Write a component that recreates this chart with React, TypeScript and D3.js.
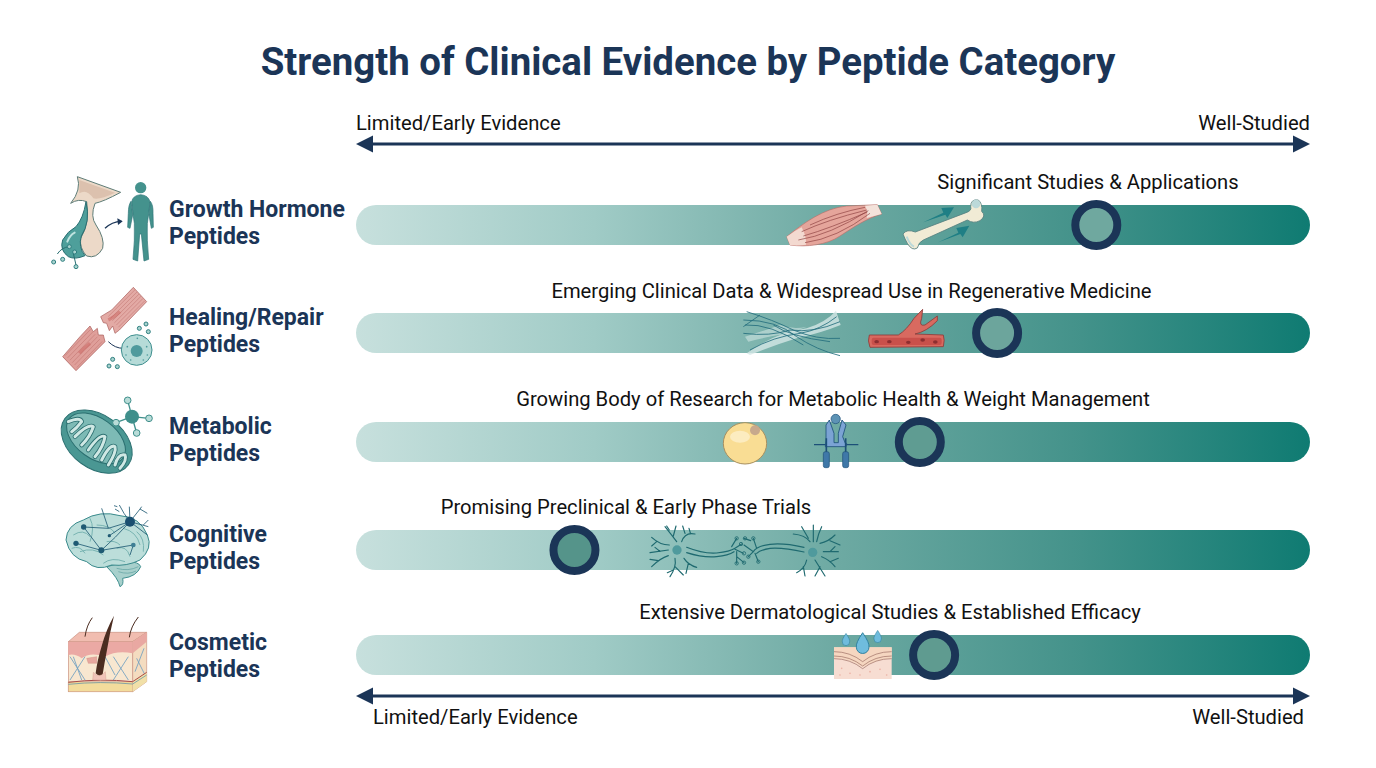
import React from "react";
import * as d3 from "d3";

const categories = ["Growth Hormone", "Healing/Repair", "Metabolic", "Cognitive", "Cosmetic"];
const evidenceScores = [77.6, 67.2, 59.1, 22.9, 60.6];
const annotations = [
  "Significant Studies & Applications",
  "Emerging Clinical Data & Widespread Use in Regenerative Medicine",
  "Growing Body of Research for Metabolic Health & Weight Management",
  "Promising Preclinical & Early Phase Trials",
  "Extensive Dermatological Studies & Established Efficacy",
];
const axisEnds = ["Limited/Early Evidence", "Well-Studied"];

const NAVY = "#1b3557";
const FONT = "Roboto, sans-serif";
const rowCenters = [225, 333, 442, 550, 655];
const noteCenters = [1088, 851.5, 833, 626, 890];
const noteBaselines = [189.3, 297.8, 406.3, 514.3, 619.3];
const labelBaselines = [217, 325, 433.5, 541.5, 650];
const markerFills = ["#6fa89f", "#6ca59c", "#5f9c92", "#55948a", "#5f9b90"];

const x = d3.scaleLinear().domain([0, 100]).range([356, 1310]);
const y = d3.scaleOrdinal<string, number>().domain(categories).range(rowCenters);

const Z = ({ ox, oy, children }: any) => (
  <g transform={`translate(${ox},${oy}) scale(${1 / 3})`}>{children}</g>
);

const Dot = ({ cx, cy, r = 6 }: any) => (
  <circle cx={cx} cy={cy} r={r} fill="#a9d3cf" stroke="#2f7f80" strokeWidth={3} />
);

const GrowthIcon = () => (
  <Z ox={40} oy={160}>
    <path d="M112 50 L242 97 Q190 125 165 130 Q150 170 168 195 Q195 235 188 265 Q170 298 140 288 Q118 265 122 235 Q150 190 140 125 Q115 115 92 130 Q125 90 112 50Z" fill="#ecd9c8" stroke="#5f7d78" strokeWidth={3} />
    <path d="M118 60 L225 98 Q180 120 160 115 Q140 85 118 100Z" fill="#dcc1ae" />
    <path d="M138 125 Q152 185 124 228 Q114 262 135 287 Q105 300 85 290 Q58 270 68 240 Q82 214 108 200 Q130 175 138 125Z" fill="#4e9f9b" stroke="#2a6f72" strokeWidth={3} />
    <path d="M82 245 Q90 225 104 218" stroke="#bfe3df" strokeWidth={6} fill="none" strokeLinecap="round" />
    <path d="M195 205 Q215 185 245 184" stroke={NAVY} strokeWidth={4} fill="none" />
    <path d="M232 175 L248 184 L234 195Z" fill={NAVY} />
    <path d="M88 260 Q65 262 52 282 M100 280 L108 315" stroke="#2a6f72" strokeWidth={3} fill="none" />
    <Dot cx={88} cy={260} /><Dot cx={104} cy={276} /><Dot cx={41} cy={306} /><Dot cx={68} cy={298} /><Dot cx={108} cy={320} />
    <circle cx={302} cy={83} r={17} fill="#44928d" />
    <path d="M302 104 Q326 106 330 126 Q326 165 322 190 Q320 240 326 298 L312 303 L304 222 L299 222 L293 303 L279 298 Q285 240 283 190 Q279 165 275 126 Q278 106 302 104Z" fill="#44928d" stroke="#2a7376" strokeWidth={2} />
    <path d="M331 124 Q340 135 339 160 L340 202 L334 205 L327 165Z M273 124 Q265 135 265 160 L263 202 L270 205 L278 165Z" fill="#44928d" stroke="#2a7376" strokeWidth={2} />
  </Z>
);

const muscleStripes = (a: number[], b: number[], n: number) =>
  d3.range(n).map((i) => {
    const t = (i + 0.5) / n;
    const p = [a[0] + (a[2] - a[0]) * t, a[1] + (a[3] - a[1]) * t];
    return <line key={i} x1={p[0]} y1={p[1]} x2={p[0] + b[0]} y2={p[1] + b[1]} stroke="#bd6f6b" strokeWidth={1.5} />;
  });

const HealingIcon = () => (
  <Z ox={40} oy={160}>
    <path d="M280 382 L320 425 L238 510 L225 520 L218 498 L208 512 L200 490 L190 488 L182 470 L215 450Z" fill="#e3aaa5" stroke="#a85a58" strokeWidth={2} />
    {muscleStripes([282, 386, 318, 425], [-80, 80], 6)}
    <path d="M240 455 Q225 470 205 480" stroke="#c9605c" strokeWidth={10} opacity={0.5} fill="none" />
    <path d="M150 498 L160 515 L172 505 L175 525 L190 525 L195 545 L108 632 L68 590 L120 530Z" fill="#df9f9a" stroke="#a85a58" strokeWidth={2} />
    {muscleStripes([148, 505, 190, 548], [-76, 78], 6)}
    <path d="M150 550 Q130 565 118 580" stroke="#c9605c" strokeWidth={10} opacity={0.5} fill="none" />
    <path d="M205 545 Q225 565 250 565" stroke={NAVY} strokeWidth={3} fill="none" />
    <circle cx={290} cy={570} r={46} fill="#b6dbd8" stroke="#3f8f8f" strokeWidth={3} />
    <circle cx={290} cy={573} r={18} fill="#4f9a9d" />
    {[[262, 560], [272, 600], [310, 600], [320, 560], [292, 535], [258, 585], [322, 585]].map((p, i) => <circle key={i} cx={p[0]} cy={p[1]} r={2.5} fill="#4f9a9d" />)}
    <Dot cx={298} cy={505} /><Dot cx={318} cy={492} /><Dot cx={325} cy={515} /><Dot cx={218} cy={598} /><Dot cx={207} cy={618} /><Dot cx={232} cy={620} />
  </Z>
);

const CRISTAE = "M85 110 Q120 95 125 110 Q110 130 95 140 M105 155 Q145 115 160 125 Q150 155 125 180 M145 195 Q180 145 195 155 Q190 185 165 215 M185 225 Q210 175 225 185 Q230 200 205 240 M225 240 Q235 205 255 210 Q262 225 240 250";

const MetabolicIcon = () => (
  <Z ox={40} oy={385}>
    <ellipse cx={170} cy={170} rx={118} ry={80} transform="rotate(36 170 170)" fill="#4a9793" stroke="#2b6f70" strokeWidth={3} />
    <ellipse cx={168} cy={160} rx={100} ry={60} transform="rotate(36 168 160)" fill="#7dbab5" stroke="#2b6f70" strokeWidth={3} />
    <path d={CRISTAE} fill="none" stroke="#2b6f70" strokeWidth={14} strokeLinecap="round" strokeLinejoin="round" />
    <path d={CRISTAE} fill="none" stroke="#cfe8e4" strokeWidth={9} strokeLinecap="round" strokeLinejoin="round" />
    <g stroke="#3f8f8b" strokeWidth={4}>
      <line x1={276} y1={95} x2={263} y2={46} /><line x1={276} y1={95} x2={228} y2={113} /><line x1={276} y1={95} x2={327} y2={100} /><line x1={276} y1={95} x2={290} y2={144} />
    </g>
    <circle cx={276} cy={95} r={21} fill="#3f8f8b" />
    {[[263, 46], [228, 113], [327, 100], [290, 144]].map((p, i) => <circle key={i} cx={p[0]} cy={p[1]} r={10} fill="#b9dcd8" stroke="#3f8f8b" strokeWidth={3} />)}
  </Z>
);

const CognitiveIcon = () => (
  <Z ox={40} oy={385}>
    <path d="M200 545 Q235 580 240 605 Q252 600 248 580 Q290 575 302 545 Q298 530 260 530Z" fill="#a8d0cc" stroke="#3f8f8f" strokeWidth={3} />
    <path d="M230 550 Q265 560 295 545 M235 560 Q265 570 288 558" fill="none" stroke="#5c9f9f" strokeWidth={2} />
    <path d="M78 465 Q80 420 130 405 Q180 375 240 392 Q300 395 322 450 Q340 490 300 525 Q260 545 215 540 Q170 560 140 530 Q90 520 78 465Z" fill="#bcdeda" stroke="#3a8a8c" strokeWidth={3} />
    <path d="M100 450 Q130 430 150 455 M170 420 Q210 420 225 445 M250 430 Q290 440 300 480 M120 500 Q160 485 190 510 M230 490 Q260 480 270 515 M150 400 Q165 430 150 470 M95 490 Q120 480 135 505 M190 535 Q215 515 255 530 M290 440 Q315 460 310 500 M200 470 Q225 465 240 480" fill="none" stroke="#79b4b2" strokeWidth={3} />
    <path d="M131 426 L184 496 L108 475 M184 496 Q225 460 270 410 L208 452 M184 496 L280 480 L270 510 M131 426 L205 430 L270 410 M270 410 Q250 385 238 360 M270 410 L300 372 M270 410 L325 425 M270 410 L322 450 M270 410 L268 365 M238 380 L225 372 M300 372 L322 385 M300 372 L305 365 M205 430 L185 370 M310 420 L325 405 M232 365 L222 362" fill="none" stroke="#1f5a73" strokeWidth={2.5} />
    <circle cx={131} cy={426} r={8} fill="#1f5a73" /><circle cx={108} cy={475} r={8} fill="#1f5a73" /><circle cx={184} cy={496} r={9} fill="#1f5a73" /><circle cx={208} cy={452} r={5} fill="#1f5a73" /><circle cx={280} cy={480} r={7} fill="#3f7f95" /><circle cx={270} cy={410} r={15} fill="#1a4f70" />
  </Z>
);

const CosmeticIcon = () => (
  <Z ox={40} oy={385}>
    <path d="M85 770 L118 742 L320 742 L278 770Z" fill="#f1bdb0" stroke="#c98f7f" strokeWidth={2} />
    <path d="M278 770 L320 742 L320 890 L278 920Z" fill="#f4dcc0" stroke="#c98f7f" strokeWidth={2} />
    <rect x={85} y={770} width={193} height={150} fill="#f8e7d0" stroke="#c98f7f" strokeWidth={2} />
    <path d="M85 770 L278 770 L278 805 Q230 795 195 815 Q150 800 125 820 Q105 805 85 810Z" fill="#eba9a4" />
    <path d="M278 770 L320 742 L320 770 L278 805Z" fill="#e9a8a2" />
    <g stroke="#6f9fc0" strokeWidth={2.5} fill="none">
      <path d="M90 815 L135 885 M135 815 L90 885 M100 815 L125 885 M220 815 L265 885 M265 815 L220 885 M290 820 L315 870 M312 790 L285 860 M195 815 L225 870" />
    </g>
    <path d="M85 890 L278 890 L278 920 L85 920Z" fill="#f3dc9c" stroke="#c98f7f" strokeWidth={1.5} />
    <path d="M278 890 L320 862 L320 890 L278 920Z" fill="#f1e0a8" />
    <path d="M85 892 Q180 880 278 890 L320 862" stroke="#a94a48" strokeWidth={3} fill="none" />
    <path d="M85 898 Q180 888 278 897 L320 870" stroke="#4e88a8" strokeWidth={2} fill="none" />
    <path d="M140 820 L170 815 L170 835 L145 835Z" fill="#e7a79e" stroke="#c47c72" />
    <path d="M167 865 Q172 825 186 780 Q198 735 222 692 Q208 750 200 800 Q194 830 188 868 Q178 878 167 865Z" fill="#4b2c20" />
    <path d="M160 862 Q178 882 196 860 L198 885 L158 885Z" fill="#f0c4b8" stroke="#c98f7f" />
    <path d="M135 755 Q140 720 157 698 M268 757 Q272 725 295 696" stroke="#4b2c20" strokeWidth={3} fill="none" />
  </Z>
);

const BoneAndMuscle = () => (
  <Z ox={730} oy={190}>
    <path d="M170 140 C220 100 280 55 350 48 L442 44 L455 72 C410 85 370 112 330 138 C290 165 230 172 180 165Z" fill="#e5a59b" stroke="#b8716b" strokeWidth={2} />
    <path d="M170 140 Q195 122 215 112 Q230 140 228 164 Q200 168 180 165Z" fill="#f3d9d0" />
    <path d="M405 47 L442 44 L455 72 L410 84 Q415 65 405 47Z" fill="#f3e2da" />
    <path d="M205 150 Q300 135 415 62 M215 125 Q290 90 410 60 M225 158 Q320 145 420 70 M240 105 Q320 68 405 52 M220 138 Q300 115 412 66" fill="none" stroke="#8d3f40" strokeWidth={2} />
    <path d="M580 97 L640 68 L634 54 L672 52 L652 84 L646 74Z" fill="#1f7f85" />
    <path d="M625 157 L685 128 L679 114 L718 107 L698 142 L691 132Z" fill="#1f7f85" />
    <path d="M556 126 Q530 116 519 132 Q525 148 532 160 Q546 184 562 174 Q566 156 580 150 L712 90 Q730 102 750 92 Q770 78 755 64 Q758 40 745 30 Q722 26 722 50 Q726 62 708 68Z" fill="#f1ebd5" stroke="#54807f" strokeWidth={2.5} />
    <circle cx={738} cy={42} r={13} fill="#bcd9d9" />
    <path d="M530 140 Q540 165 552 170" stroke="#bcd9d9" strokeWidth={6} fill="none" />
  </Z>
);

const FibreAndVessel = () => (
  <Z ox={730} oy={190}>
    <path d="M50 490 Q130 430 230 415 Q290 395 318 362 L332 405 Q270 430 200 445 Q120 470 60 495Z" fill="#d5e7e6" opacity={0.8} />
    <path d="M45 440 Q110 420 150 405 Q190 420 230 410 L180 430 Q110 440 55 455Z" fill="#d5e7e6" opacity={0.55} />
    <path d="M40 430 Q120 440 180 420 Q250 430 330 395 M40 390 Q140 390 200 440 Q260 480 330 497 M50 365 Q130 390 190 420 Q260 450 330 445 M45 405 Q120 400 220 465 M60 480 Q130 440 210 430 Q270 420 320 380 M90 375 L40 410 M130 405 Q180 440 300 455" fill="none" stroke="#236d7d" strokeWidth={2.5} />
    <path d="M418 435 L505 435 Q530 420 552 385 L578 358 L575 385 Q565 410 585 405 L622 378 L622 392 Q590 425 555 432 L640 435 Q645 450 640 470 L420 472 Q412 452 418 435Z" fill="#d86a60" stroke="#8d3b3a" strokeWidth={2.5} />
    <rect x={425} y={443} width={210} height={22} rx={6} fill="#c9504b" />
    {[[440, 455], [478, 455], [535, 457], [578, 450], [616, 456]].map((p, i) => <ellipse key={i} cx={p[0]} cy={p[1]} rx={7} ry={5} fill="#8d2e30" />)}
  </Z>
);

const FatAndReceptor = () => (
  <Z ox={540} oy={410}>
    <ellipse cx={615} cy={100} rx={65} ry={62} fill="#f9dd94" stroke="#a89060" strokeWidth={3} />
    <ellipse cx={600} cy={80} rx={30} ry={18} fill="#fcecc0" />
    <circle cx={645} cy={61} r={15} fill="#c7a98c" />
    <line x1={822} y1={104} x2={955} y2={104} stroke="#1c4f78" strokeWidth={3.5} />
    <path d="M858 45 L868 30 L882 70 L882 98 L895 98 L895 70 L906 30 L918 45 L908 80 L916 100 L920 100 L918 110 L856 110 L858 90Z" fill="#7ba3d4" stroke="#1c4f78" strokeWidth={2.5} />
    <circle cx={887} cy={27} r={14} fill="#5d93b5" stroke="#1c4f78" strokeWidth={2} />
    <rect x={850} y={125} width={18} height={48} rx={6} fill="#3f78a8" stroke="#1c4f78" strokeWidth={2} />
    <rect x={908} y={125} width={18} height={48} rx={6} fill="#3f78a8" stroke="#1c4f78" strokeWidth={2} />
    <path d="M859 85 L859 125 M917 85 L917 125" stroke="#1c4f78" strokeWidth={5} />
  </Z>
);

const Neuron = () => (
  <Z ox={540} oy={410}>
    <g fill="none" stroke="#1f6a70" strokeWidth={3.5} strokeLinecap="round">
      <path d="M410 395 Q395 375 375 350 M400 378 L408 348 M388 360 L380 348 M425 395 Q435 365 465 372 M435 370 L428 348 M452 372 L447 355 M388 405 Q360 405 335 382 M350 395 L335 408 M385 420 L330 428 M360 424 L345 412 M385 437 Q360 445 335 470 M355 452 L330 448 M405 445 Q410 470 390 500 M405 470 L430 495 M400 480 L382 488 M432 445 Q445 465 470 472 M445 460 L438 490" />
      <path d="M440 412 Q490 432 530 429 Q570 425 585 415 L605 402 M585 418 L610 430 M590 425 L590 460 M575 410 L590 385 M590 440 L612 458" />
      <path d="M440 428 Q490 444 530 440 Q565 436 582 425" />
      <path d="M792 412 Q730 398 690 403 Q650 408 640 425 L612 405 M640 425 L625 440 M645 430 L655 455 M650 415 L640 385 M632 392 L612 385" />
      <path d="M792 426 Q730 412 690 415 Q660 420 650 430" />
      <path d="M810 395 Q795 375 760 372 M805 385 L785 350 M820 395 L820 345 M830 395 Q835 370 845 350 M840 400 Q865 395 885 375 M870 392 L900 405 M850 425 L895 425 M870 425 L885 410 M845 440 Q870 450 885 470 M870 455 L895 445 M825 450 L855 498 M840 470 L825 498 M800 450 Q795 475 770 488 M790 470 L795 498" />
    </g>
    <circle cx={411} cy={420} r={14} fill="#4f9a9d" />
    <circle cx={818} cy={427} r={14} fill="#4f9a9d" />
    {[[603, 402], [612, 430], [590, 385], [612, 458], [590, 460], [615, 385], [625, 440], [655, 455], [640, 385]].map((p, i) => <circle key={i} cx={p[0]} cy={p[1]} r={5} fill="none" stroke="#1f6a70" strokeWidth={2.5} />)}
  </Z>
);

const SkinPatch = () => (
  <Z ox={540} oy={410}>
    <rect x={882} y={712} width={173} height={95} fill="#f7ddd2" />
    <path d="M882 712 L1055 712 L1055 745 Q1005 750 968 772 Q930 745 882 745Z" fill="#f5d6c0" />
    <path d="M882 725 Q930 725 968 755 Q1005 725 1055 725 M882 738 Q930 738 968 768 Q1005 738 1055 738 M882 746 Q930 746 968 776 Q1005 746 1055 746" fill="none" stroke="#9a6b60" strokeWidth={2} />
    {[[905, 775], [930, 790], [960, 795], [990, 785], [1020, 778], [1040, 795], [900, 795]].map((p, i) => <circle key={i} cx={p[0]} cy={p[1]} r={2.5} fill="#eab1a4" />)}
    {[[968, 700, 1.45], [918, 689, 0.85], [1013, 680, 0.85]].map((d, i) => (
      <path key={i} transform={`translate(${d[0]},${d[1]}) scale(${d[2]})`} d="M0 -22 Q15 0 13 8 A13 13 0 0 1 -13 8 Q-15 0 0 -22Z" fill="#6fbcdd" stroke="#2f7f9e" strokeWidth={2} />
    ))}
  </Z>
);

const rowIcons = [GrowthIcon, HealingIcon, MetabolicIcon, CognitiveIcon, CosmeticIcon];
const barIcons = [BoneAndMuscle, FibreAndVessel, FatAndReceptor, Neuron, SkinPatch];

const EvidenceArrow = ({ yPos }: { yPos: number }) => (
  <g>
    <line x1={x(0) + 8} x2={x(100) - 8} y1={yPos} y2={yPos} stroke={NAVY} strokeWidth={2.8} />
    <path d={`M${x(0)} ${yPos} l17 -8.5 v17Z`} fill={NAVY} />
    <path d={`M${x(100)} ${yPos} l-17 -8.5 v17Z`} fill={NAVY} />
  </g>
);

export default function App() {
  return (
    <svg width={1376} height={768} viewBox="0 0 1376 768" style={{ position: "absolute", left: 0, top: 0, display: "block", background: "#fff" }} fontFamily={FONT}>
      <defs>
        <linearGradient id="evidence" x1="0" x2="1" y1="0" y2="0">
          <stop offset="0" stopColor="#c7e0dd" />
          <stop offset="0.25" stopColor="#a0cbc6" />
          <stop offset="0.5" stopColor="#6eaaa3" />
          <stop offset="0.75" stopColor="#45938b" />
          <stop offset="1" stopColor="#0f7b72" />
        </linearGradient>
      </defs>
      <text x={688} y={75} textAnchor="middle" fontSize={38.4} fontWeight={700} fill={NAVY}>Strength of Clinical Evidence by Peptide Category</text>

      <text x={x(0)} y={130.3} fontSize={20.2} fill="#111">{axisEnds[0]}</text>
      <text x={x(100)} y={130.3} fontSize={20.2} fill="#111" textAnchor="end">{axisEnds[1]}</text>
      <EvidenceArrow yPos={144} />

      {categories.map((c, i) => {
        const cy = y(c);
        const RowIcon = rowIcons[i];
        const BarIcon = barIcons[i];
        return (
          <g key={c}>
            <RowIcon />
            <text x={169} y={labelBaselines[i]} fontSize={23} fontWeight={700} fill={NAVY}>{c}</text>
            <text x={169} y={labelBaselines[i] + 27} fontSize={23} fontWeight={700} fill={NAVY}>Peptides</text>
            <rect x={x(0)} y={cy - 20} width={x(100) - x(0)} height={40} rx={20} fill="url(#evidence)" />
            <BarIcon />
            <text x={noteCenters[i]} y={noteBaselines[i]} textAnchor="middle" fontSize={20.2} fill="#111">{annotations[i]}</text>
            <circle cx={x(evidenceScores[i])} cy={cy} r={21} fill={markerFills[i]} stroke={NAVY} strokeWidth={8} />
          </g>
        );
      })}

      <EvidenceArrow yPos={696} />
      <text x={373} y={724.3} fontSize={20.2} fill="#111">{axisEnds[0]}</text>
      <text x={1304} y={724.3} fontSize={20.2} fill="#111" textAnchor="end">{axisEnds[1]}</text>
    </svg>
  );
}
